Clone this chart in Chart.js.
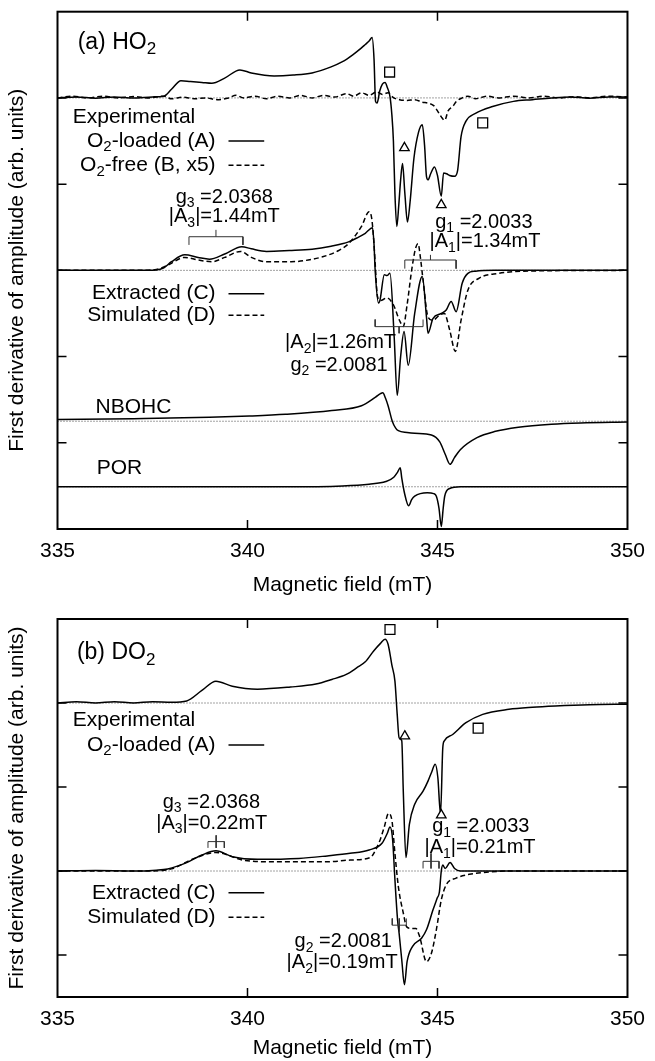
<!DOCTYPE html>
<html lang="en">
<head>
<meta charset="UTF-8">
<title>EPR spectra of HO2 and DO2</title>
<script src="https://cdn.jsdelivr.net/npm/chart.js"></script>
<style>
  html, body { margin:0; padding:0; background:#fff; overflow:hidden; }
  #wrap { position:relative; width:655px; height:1061px; }
  #wrap canvas { position:absolute; left:0; }
  #chartA { top:0; }
  #chartB { top:600px; }
</style>
</head>
<body>
<div id="wrap">
  <canvas id="chartA" width="655" height="600"></canvas>
  <canvas id="chartB" width="655" height="461"></canvas>
</div>
<script>
// ---- data (field in mT, amplitude relative to each trace's own baseline) ----
const fieldTicks = [335, 340, 345, 350];

// panel (a) HO2
const ho2Loaded = [[335,0],[335.5,0.012],[336,-0.004],[336.5,0.012],[337,0],[337.5,0.012],[337.8,0.02],[338,0.1],[338.25,0.2],[338.5,0.19],[338.8,0.18],[339.06,0.17],[339.4,0.23],[339.8,0.325],[340.1,0.29],[340.7,0.255],[341.2,0.265],[341.7,0.29],[342.2,0.36],[342.5,0.42],[342.77,0.5],[343,0.58],[343.1,0.62],[343.2,0.66],[343.28,0.7],[343.33,0.45],[343.37,-0.04],[343.41,-0.06],[343.48,0.08],[343.55,0.16],[343.62,0.18],[343.68,0.12],[343.75,0.015],[343.8,-0.2],[343.84,-0.5],[343.88,-1.11],[343.93,-1.49],[343.98,-1.25],[344.03,-0.95],[344.08,-0.76],[344.14,-1.1],[344.21,-1.44],[344.28,-1.2],[344.38,-0.7],[344.5,-0.4],[344.6,-0.31],[344.66,-0.55],[344.71,-0.91],[344.75,-0.95],[344.82,-0.88],[344.92,-0.8],[345,-0.9],[345.1,-1.14],[345.16,-0.87],[345.24,-0.88],[345.32,-0.9],[345.45,-0.91],[345.53,-0.84],[345.62,-0.45],[345.75,-0.27],[346,-0.18],[346.45,-0.1],[347,-0.04],[347.5,-0.02],[348,0],[348.5,0.012],[349,-0.004],[349.5,0.012],[350,0.01]];
const ho2Free = [[335,0],[335.4,0.02],[335.8,0],[336.2,0.02],[336.6,0],[337,0.015],[337.4,0],[337.8,0.02],[338,-0.01],[338.3,0.01],[338.6,-0.01],[338.9,0],[339.2,-0.02],[339.5,0],[339.7,0.03],[339.9,0],[340.2,0.02],[340.5,-0.01],[340.8,0.02],[341.1,0],[341.4,0.03],[341.7,0],[342,0.03],[342.3,0.01],[342.6,0.05],[342.8,0.02],[343,0.06],[343.2,0.03],[343.4,0.07],[343.55,0.04],[343.7,0.06],[343.85,0],[344,-0.02],[344.2,-0.03],[344.4,-0.02],[344.6,-0.05],[344.75,-0.06],[344.9,-0.09],[345,-0.15],[345.1,-0.22],[345.19,-0.26],[345.28,-0.15],[345.4,-0.1],[345.5,-0.04],[345.65,0],[345.8,0.02],[346,-0.01],[346.3,0.02],[346.6,0],[347,0.02],[347.4,0],[347.8,0.02],[348.2,0],[348.6,0.015],[349,0],[349.5,0.02],[350,0.01]];
const ho2Extracted = [[335,0],[336,0],[337,0],[337.6,0.005],[337.8,0.03],[338,0.1],[338.35,0.18],[338.7,0.15],[339,0.13],[339.4,0.19],[339.85,0.275],[340.1,0.25],[340.5,0.22],[341.1,0.23],[341.7,0.245],[342.2,0.28],[342.66,0.33],[342.9,0.38],[343.1,0.43],[343.29,0.495],[343.33,0.3],[343.36,0],[343.45,-0.38],[343.49,-0.34],[343.6,-0.05],[343.67,-0.06],[343.75,-0.035],[343.86,-0.77],[343.94,-1.45],[344.03,-1],[344.12,-0.71],[344.23,-1.1],[344.4,-0.5],[344.6,-0.07],[344.71,-0.54],[344.75,-0.73],[344.88,-0.56],[345.1,-0.5],[345.23,-0.46],[345.36,-0.36],[345.49,-0.48],[345.65,-0.15],[345.8,-0.035],[346,-0.01],[346.5,0],[350,0]];
const ho2Simulated = [[335,0],[337,0],[337.6,0.01],[337.9,0.06],[338.35,0.15],[338.7,0.12],[339.06,0.1],[339.4,0.15],[339.82,0.22],[340.1,0.15],[340.5,0.1],[341.15,0.1],[341.6,0.12],[342,0.16],[342.4,0.23],[342.66,0.31],[343,0.51],[343.2,0.68],[343.27,0.6],[343.33,0.3],[343.36,0.08],[343.42,-0.3],[343.5,-0.35],[343.67,-0.32],[343.84,-0.4],[344,-0.58],[344.1,-0.65],[344.2,-0.4],[344.32,0],[344.42,0.25],[344.49,0.31],[344.55,0.15],[344.62,-0.11],[344.75,-0.54],[344.88,-0.58],[345.05,-0.52],[345.18,-0.5],[345.32,-0.69],[345.47,-0.94],[345.62,-0.58],[345.8,-0.23],[346.1,-0.09],[346.62,-0.035],[347.2,-0.01],[350,0]];
const nbohc = [[335,0.02],[337,0.03],[339,0.045],[340.05,0.06],[341,0.08],[342.22,0.125],[343,0.18],[343.37,0.28],[343.5,0.32],[343.56,0.33],[343.63,0.27],[343.7,0.18],[343.81,0],[343.9,-0.08],[343.97,-0.11],[344.2,-0.13],[344.4,-0.14],[344.84,-0.16],[345.06,-0.24],[345.2,-0.38],[345.33,-0.5],[345.45,-0.42],[345.6,-0.33],[346.04,-0.19],[346.5,-0.12],[347.13,-0.07],[348,-0.035],[348.77,-0.02],[350,-0.01]];
const por = [[335,0],[341,0],[342.5,0.01],[343.2,0.03],[343.64,0.06],[343.85,0.11],[343.95,0.17],[344.02,0.22],[344.06,0.1],[344.13,-0.07],[344.24,-0.22],[344.32,-0.15],[344.4,-0.11],[344.73,-0.07],[344.9,-0.08],[344.97,-0.11],[345.04,-0.25],[345.1,-0.46],[345.15,-0.25],[345.19,-0.11],[345.32,-0.02],[345.6,0],[350,0]];
const baselinesA = [5, 3, 1.25, 0.49];          // loaded/free, extracted/simulated, NBOHC, POR
const squaresA = [[343.74, 5.30], [346.19, 4.71]];
const trianglesA = [[344.13, 4.42], [345.10, 3.76]];
// stick brackets: [left, right, level, end tick to, centre tick from, centre tick to]
const bracketsA = [[338.46, 339.88, 3.39, 3.295, 3.39, 3.47], [344.14, 345.49, 3.12, 3.02, 3.12, 3.18], [343.36, 344.62, 2.347, 2.43, 2.347, 2.27]];

// panel (b) DO2
const do2Loaded = [[335,0],[335.5,0.03],[336,0],[336.5,0.03],[337,0],[337.5,0.03],[338,0.02],[338.4,0.05],[338.8,0.3],[339.17,0.52],[339.6,0.4],[340.26,0.33],[341.13,0.38],[341.8,0.45],[342.22,0.56],[342.6,0.68],[342.88,0.84],[343.1,0.98],[343.32,1.24],[343.5,1.42],[343.62,1.52],[343.7,1.4],[343.8,0.9],[343.88,0.52],[343.94,-0.27],[343.99,-0.83],[344.06,-0.9],[344.1,-2.1],[344.17,-3.68],[344.26,-2.89],[344.4,-2.41],[344.62,-2.1],[344.75,-1.86],[344.84,-1.66],[344.94,-1.46],[345.01,-1.78],[345.08,-2.65],[345.14,-1.06],[345.18,-0.9],[345.4,-0.75],[345.75,-0.47],[346.19,-0.27],[346.88,-0.15],[347.5,-0.1],[348.1,-0.07],[349,-0.04],[350,-0.03]];
const do2Extracted = [[335,0],[336,0.01],[337,0],[337.6,0.02],[337.9,0.05],[338.4,0.2],[338.8,0.38],[339.17,0.48],[339.6,0.34],[340.26,0.28],[341.35,0.3],[342.1,0.36],[342.7,0.42],[343.2,0.5],[343.54,0.66],[343.68,0.9],[343.75,1.05],[343.82,0.74],[343.88,-0.21],[343.95,-1.17],[343.99,-1.48],[344.06,-2.12],[344.13,-2.71],[344.2,-2.16],[344.34,-1.8],[344.58,-1.6],[344.71,-1.4],[344.88,-0.93],[344.99,-0.65],[345.05,-0.5],[345.1,0],[345.14,0.14],[345.2,0.06],[345.33,0.2],[345.45,0.06],[345.6,0],[346,0],[350,0]];
const do2Simulated = [[335,0],[337.5,0],[338,0.05],[338.6,0.3],[339.17,0.44],[339.94,0.25],[340.7,0.22],[341.4,0.22],[342.1,0.22],[342.7,0.26],[343.23,0.32],[343.4,0.55],[343.49,0.74],[343.6,1.05],[343.71,1.37],[343.8,1.21],[343.88,0.42],[343.97,-0.37],[344.1,-1],[344.19,-1.33],[344.32,-1.37],[344.43,-1.37],[344.53,-1.56],[344.71,-2.16],[344.84,-1.96],[344.97,-1.4],[345.1,-0.69],[345.23,-0.33],[345.49,-0.17],[345.84,-0.08],[346.4,-0.02],[347,0],[350,0]];
const baselinesB = [7, 3];
const squaresB = [[343.75, 8.75], [346.07, 6.40]];
const trianglesB = [[344.14, 6.21], [345.10, 4.33]];
const bracketsB = [[338.96, 339.39, 3.70, 3.55, 3.85, 3.55], [344.62, 345.04, 3.23, 3.06, 3.42, 3.06], [343.81, 344.18, 1.71, 1.87, 1.87, 1.55]];

// ---- helpers ----
const FONT = '"Liberation Sans", Arial, Helvetica, sans-serif';
Chart.defaults.font.family = FONT;
Chart.defaults.color = '#000';

const xy = (pairs, off) => pairs.map(p => ({x: p[0], y: p[1] + off}));

function curve(pairs, off, dashed) {
  return {data: xy(pairs, off), borderColor: '#000', borderWidth: 1.5, borderDash: dashed ? [5, 3] : [],
    pointRadius: 0, cubicInterpolationMode: 'monotone', fill: false};
}
function baseline(off) {
  return {data: [{x: 335, y: off}, {x: 350, y: off}], borderColor: '#444', borderWidth: 1, borderDash: [1, 2],
    pointRadius: 0, tension: 0};
}
function markers(pairs, style, r) {
  return {data: xy(pairs, 0), showLine: false, pointStyle: style, pointRadius: r, pointHoverRadius: r,
    pointBackgroundColor: '#fff', pointBorderColor: '#000', pointBorderWidth: 1.3};
}
function brackets(list) {
  const pts = [];
  list.forEach(b => {
    const [l, r, lvl, endTo, cFrom, cTo] = b, mid = (l + r) / 2;
    pts.push({x: l, y: endTo}, {x: l, y: lvl}, {x: r, y: lvl}, {x: r, y: endTo}, {x: r, y: null},
             {x: mid, y: cFrom}, {x: mid, y: cTo}, {x: mid, y: null});
  });
  return {data: pts, borderColor: '#333', borderWidth: 1, pointRadius: 0, tension: 0, spanGaps: false};
}

// text with "_x" as a subscript character
function drawRich(ctx, text, x, y, align, size) {
  const parts = [];
  for (let i = 0; i < text.length; i++) {
    if (text[i] === '_') { parts.push([text[i + 1], true]); i++; }
    else if (parts.length && !parts[parts.length - 1][1]) parts[parts.length - 1][0] += text[i];
    else parts.push([text[i], false]);
  }
  const big = size + 'px ' + FONT, small = Math.round(size * 0.72) + 'px ' + FONT;
  let w = 0;
  parts.forEach(p => { ctx.font = p[1] ? small : big; w += ctx.measureText(p[0]).width; });
  let cx = align === 'left' ? x : align === 'right' ? x - w : x - w / 2;
  ctx.textAlign = 'left';
  ctx.textBaseline = 'middle';
  parts.forEach(p => {
    ctx.font = p[1] ? small : big;
    ctx.fillText(p[0], cx, p[1] ? y + size * 0.3 : y);
    cx += ctx.measureText(p[0]).width;
  });
}

// frame with inward ticks, legends and annotations
const framePlugin = {
  id: 'frame',
  afterDraw(chart, args, opts) {
    const {ctx, chartArea: a, scales: {x, y}} = chart;
    ctx.save();
    ctx.strokeStyle = '#000';
    ctx.lineWidth = 2;
    ctx.strokeRect(a.left, a.top, a.right - a.left, a.bottom - a.top);
    ctx.lineWidth = 1.5;
    ctx.beginPath();
    [340, 345].forEach(v => {
      const px = x.getPixelForValue(v);
      ctx.moveTo(px, a.bottom); ctx.lineTo(px, a.bottom - 9);
      ctx.moveTo(px, a.top); ctx.lineTo(px, a.top + 9);
    });
    opts.yTicks.forEach(v => {
      const py = y.getPixelForValue(v);
      ctx.moveTo(a.left, py); ctx.lineTo(a.left + 9, py);
      ctx.moveTo(a.right, py); ctx.lineTo(a.right - 9, py);
    });
    ctx.stroke();
    ctx.fillStyle = '#000';
    opts.labels.forEach(l => drawRich(ctx, l.t, x.getPixelForValue(l.f), y.getPixelForValue(l.v), l.al, l.s || 21));
    ctx.lineWidth = 1.5;
    opts.samples.forEach(s => {
      const py = y.getPixelForValue(s.v);
      ctx.setLineDash(s.dash ? [5, 3] : []);
      ctx.beginPath();
      ctx.moveTo(x.getPixelForValue(339.5), py);
      ctx.lineTo(x.getPixelForValue(340.44), py);
      ctx.stroke();
    });
    ctx.restore();
  }
};

function makeChart(id, datasets, yMax, padTop, xHeight, titlePad, frame) {
  return new Chart(document.getElementById(id), {
    type: 'line',
    data: {datasets},
    options: {
      responsive: false, animation: false, events: [],
      layout: {padding: {left: 0, right: 22, top: padTop, bottom: 0}},
      plugins: {legend: {display: false}, tooltip: {enabled: false}, frame},
      scales: {
        x: {type: 'linear', min: 335, max: 350,
          afterBuildTicks: s => { s.ticks = fieldTicks.map(v => ({value: v})); },
          afterFit: s => { s.height = xHeight; },
          grid: {display: false, drawTicks: false}, border: {display: false},
          ticks: {font: {size: 21}, padding: 10, color: '#000'},
          title: {display: true, text: 'Magnetic field (mT)', font: {size: 21}, padding: {top: 0, bottom: titlePad}, color: '#000'}},
        y: {min: 0, max: yMax,
          afterFit: s => { s.width = 57.5; },
          grid: {display: false, drawTicks: false}, border: {display: false},
          ticks: {display: false},
          title: {display: true, text: 'First derivative of amplitude (arb. units)', font: {size: 21}, padding: {top: 5, bottom: 0}, color: '#000'}}
      }
    },
    plugins: [framePlugin]
  });
}

// panel (a)
makeChart('chartA', [
  markers(squaresA, 'rect', 7),
  markers(trianglesA, 'triangle', 5.5),
  brackets(bracketsA),
  curve(ho2Loaded, baselinesA[0], false),
  curve(ho2Free, baselinesA[0], true),
  curve(ho2Extracted, baselinesA[1], false),
  curve(ho2Simulated, baselinesA[1], true),
  curve(nbohc, baselinesA[2], false),
  curve(por, baselinesA[3], false),
  baseline(baselinesA[0]), baseline(baselinesA[1]), baseline(baselinesA[2]), baseline(baselinesA[3])
], 6, 11.7, 71, 2, {
  yTicks: [1, 2, 3, 4, 5],
  labels: [
    {t: '(a) HO_2', f: 335.53, v: 5.64, al: 'left', s: 23},
    {t: 'Experimental', f: 335.40, v: 4.78, al: 'left'},
    {t: 'O_2-loaded (A)', f: 339.16, v: 4.50, al: 'right'},
    {t: 'O_2-free (B, x5)', f: 339.16, v: 4.22, al: 'right'},
    {t: 'g_3 =2.0368', f: 339.39, v: 3.85, al: 'center', s: 20},
    {t: '|A_3|=1.44mT', f: 339.39, v: 3.62, al: 'center', s: 20},
    {t: 'g_1 =2.0033', f: 346.22, v: 3.56, al: 'center', s: 20},
    {t: '|A_1|=1.34mT', f: 346.25, v: 3.33, al: 'center', s: 20},
    {t: 'Extracted (C)', f: 339.16, v: 2.73, al: 'right'},
    {t: 'Simulated (D)', f: 339.16, v: 2.48, al: 'right'},
    {t: '|A_2|=1.26mT', f: 342.45, v: 2.16, al: 'center', s: 20},
    {t: 'g_2 =2.0081', f: 342.41, v: 1.90, al: 'center', s: 20},
    {t: 'NBOHC', f: 336.0, v: 1.415, al: 'left'},
    {t: 'POR', f: 336.03, v: 0.70, al: 'left'}
  ],
  samples: [{v: 4.50, dash: false}, {v: 4.22, dash: true}, {v: 2.73, dash: false}, {v: 2.48, dash: true}]
});

// panel (b)
makeChart('chartB', [
  markers(squaresB, 'rect', 7),
  markers(trianglesB, 'triangle', 5.5),
  brackets(bracketsB),
  curve(do2Loaded, baselinesB[0], false),
  curve(do2Extracted, baselinesB[1], false),
  curve(do2Simulated, baselinesB[1], true),
  baseline(baselinesB[0]), baseline(baselinesB[1])
], 9, 19, 64, 0, {
  yTicks: [1, 3, 5, 7],
  labels: [
    {t: '(b) DO_2', f: 335.51, v: 8.19, al: 'left', s: 23},
    {t: 'Experimental', f: 335.40, v: 6.60, al: 'left'},
    {t: 'O_2-loaded (A)', f: 339.16, v: 6.0, al: 'right'},
    {t: 'g_3 =2.0368', f: 339.05, v: 4.64, al: 'center', s: 20},
    {t: '|A_3|=0.22mT', f: 339.06, v: 4.14, al: 'center', s: 20},
    {t: 'g_1 =2.0033', f: 346.14, v: 4.05, al: 'center', s: 20},
    {t: '|A_1|=0.21mT', f: 346.12, v: 3.55, al: 'center', s: 20},
    {t: 'Extracted (C)', f: 339.16, v: 2.48, al: 'right'},
    {t: 'Simulated (D)', f: 339.16, v: 1.90, al: 'right'},
    {t: 'g_2 =2.0081', f: 342.52, v: 1.31, al: 'center', s: 20},
    {t: '|A_2|=0.19mT', f: 342.49, v: 0.81, al: 'center', s: 20}
  ],
  samples: [{v: 6.0, dash: false}, {v: 2.48, dash: false}, {v: 1.90, dash: true}]
});
</script>
</body>
</html>
